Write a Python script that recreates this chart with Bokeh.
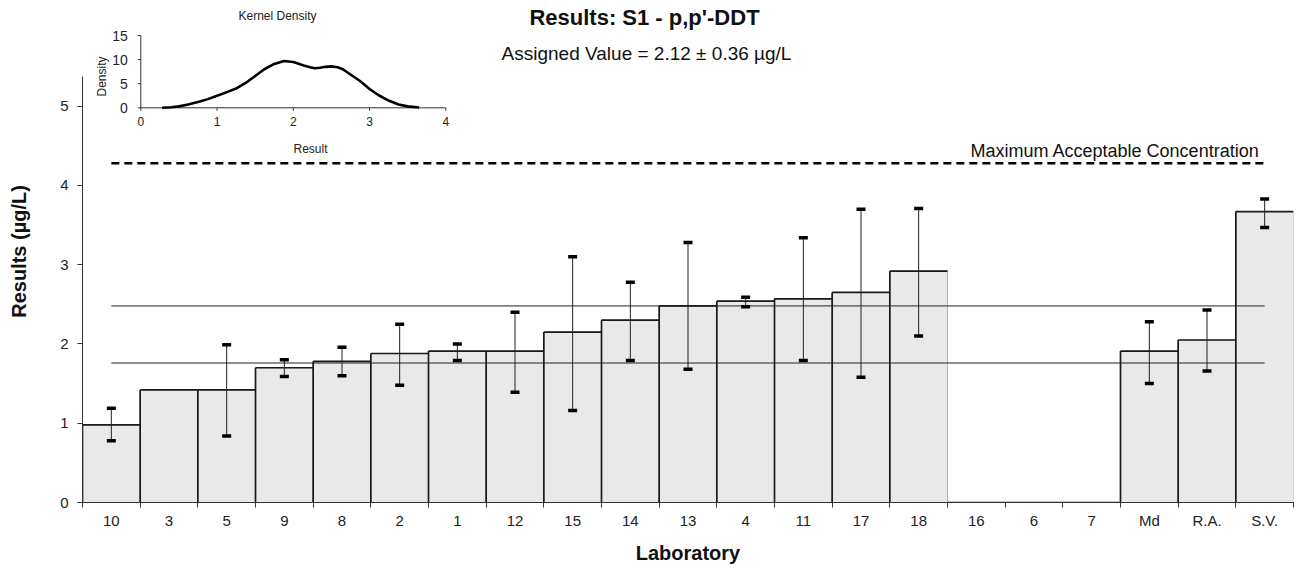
import numpy as np
from bokeh.plotting import figure
from bokeh.models import Range1d, FixedTicker
from bokeh.core.properties import value
from bokeh.embed import file_html
from bokeh.resources import INLINE

FONT = "Liberation Sans"

# ---------------- data ----------------
labs = ["10", "3", "5", "9", "8", "2", "1", "12", "15", "14", "13", "4", "11",
        "17", "18", "16", "6", "7", "Md", "R.A.", "S.V."]
results = [0.98, 1.42, 1.42, 1.70, 1.78, 1.88, 1.91, 1.91, 2.15, 2.30, 2.48, 2.54, 2.57,
           2.65, 2.92, 0.0, 0.0, 0.0, 1.91, 2.05, 3.67]
unc_lo = [0.78, np.nan, 0.84, 1.59, 1.60, 1.48, 1.79, 1.39, 1.16, 1.79, 1.68, 2.47, 1.79,
          1.58, 2.10, np.nan, np.nan, np.nan, 1.50, 1.66, 3.47]
unc_hi = [1.19, np.nan, 1.99, 1.80, 1.96, 2.25, 2.00, 2.40, 3.10, 2.78, 3.28, 2.59, 3.34,
          3.70, 3.71, np.nan, np.nan, np.nan, 2.28, 2.43, 3.83]
ASSIGNED = 2.12
SIGMA = 0.36
MAC = 4.28
main_yticks = [0, 1, 2, 3, 4, 5]

dens_x = [0.28, 0.4, 0.5, 0.62, 0.75, 0.88, 1.0, 1.12, 1.25, 1.38, 1.5, 1.62, 1.75, 1.88,
          2.0, 2.08, 2.15, 2.22, 2.28, 2.35, 2.42, 2.5, 2.58, 2.65, 2.75, 2.88, 3.0,
          3.12, 3.25, 3.38, 3.5, 3.65]
dens_y = [0.0, 0.1, 0.3, 0.7, 1.2, 1.8, 2.5, 3.2, 4.0, 5.2, 6.6, 8.0, 9.1, 9.7,
          9.5, 9.1, 8.7, 8.4, 8.2, 8.3, 8.5, 8.6, 8.4, 8.0, 6.9, 5.5, 3.9,
          2.6, 1.5, 0.7, 0.3, 0.05]
inset_xticks = [0, 1, 2, 3, 4]
inset_yticks = [0, 5, 10, 15]

# ---------------- layout (page pixels) ----------------
W, H = 1296, 570
BL, BR, BT, BB = 82, 3, 0, 68
FW = W - BL - BR
FH = H - BT - BB
PPY = 79.26
Y_TOP = FH / PPY
N = len(labs)
PPX = FW / N


def px2x(px):
    return 0.5 + (px - BL) / PPX


def py2y(py):
    return (BT + FH - py) / PPY


x = np.arange(1, N + 1, dtype=float)
left = x - 0.5
right = x + 0.5
res = np.array(results)

p = figure(width=W, height=H, x_range=Range1d(0.5, N + 0.5), y_range=Range1d(0, Y_TOP),
           output_backend="svg", toolbar_location=None, tools="", title=None,
           min_border_left=BL, min_border_right=BR, min_border_top=BT, min_border_bottom=BB)
p.xgrid.visible = False
p.ygrid.visible = False
p.outline_line_color = None
p.background_fill_color = "white"
p.border_fill_color = "white"

# bars
p.quad(left=left, right=right, bottom=0, top=res, fill_color="#e9e9e9",
       line_color="#b4b4b4", line_width=1)
p.segment(x0=left, y0=0, x1=left, y1=res, line_color="#1a1a1a", line_width=1.7)
p.segment(x0=left, y0=res, x1=right, y1=res, line_color="#1a1a1a", line_width=1.7)

# assigned value +/- sigma lines
p.segment(x0=x[0], y0=[ASSIGNED - SIGMA, ASSIGNED + SIGMA], x1=x[-1],
          y1=[ASSIGNED - SIGMA, ASSIGNED + SIGMA], line_color="#222222", line_width=1)
# maximum acceptable concentration
p.segment(x0=[x[0]], y0=[MAC], x1=[x[-1]], y1=[MAC], line_color="black",
          line_width=2.5, line_dash="8 5")

# error bars
p.segment(x0=x, y0=unc_lo, x1=x, y1=unc_hi, line_color="#222222", line_width=1)
p.scatter(x=np.concatenate([x, x]), y=np.concatenate([unc_lo, unc_hi]), marker="dash",
          size=9, line_color="black", line_width=3.5)

# axes
p.xaxis.ticker = FixedTicker(ticks=list(x), minor_ticks=[i + 0.5 for i in range(N + 1)])
p.xaxis.major_label_overrides = {i + 1: lab for i, lab in enumerate(labs)}
p.xaxis.major_tick_out = 0
p.xaxis.major_tick_in = 0
p.xaxis.minor_tick_out = 5
p.xaxis.minor_tick_in = 0
p.xaxis.major_label_standoff = 4
p.xaxis.axis_label = "Laboratory"
p.xaxis.axis_label_standoff = 10

p.yaxis.ticker = FixedTicker(ticks=main_yticks)
p.yaxis.bounds = (0, 5.38)
p.yaxis.major_tick_out = 5
p.yaxis.major_tick_in = 0
p.yaxis.minor_tick_out = 0
p.yaxis.minor_tick_in = 0
p.yaxis.major_label_standoff = 9
p.yaxis.axis_label = "Results (µg/L)"
p.yaxis.axis_label_standoff = 27

for ax in (p.xaxis[0], p.yaxis[0]):
    ax.axis_line_color = "#333333"
    ax.major_tick_line_color = "#333333"
    ax.minor_tick_line_color = "#333333"
    ax.major_label_text_font = FONT
    ax.major_label_text_font_size = "15px"
    ax.major_label_text_color = "#222222"
    ax.axis_label_text_font = FONT
    ax.axis_label_text_font_size = "20px"
    ax.axis_label_text_font_style = "bold"
    ax.axis_label_text_color = "#111111"

# titles
p.text(x=[px2x(644)], y=[py2y(17)], text=["Results: S1 - p,p'-DDT"],
       text_font=value(FONT), text_font_size="22px", text_font_style="bold",
       text_align="center", text_baseline="middle", text_color="#111111")
p.text(x=[px2x(646)], y=[py2y(53)], text=["Assigned Value = 2.12 ± 0.36 µg/L"],
       text_font=value(FONT), text_font_size="19px",
       text_align="center", text_baseline="middle", text_color="#111111")
p.text(x=[x[-1]], y=[MAC], text=["Maximum Acceptable Concentration"],
       x_offset=-5, y_offset=-2,
       text_font=value(FONT), text_font_size="18px",
       text_align="right", text_baseline="bottom", text_color="#111111")

# ---------------- inset: kernel density ----------------
ins = p.subplot(x_source=Range1d(0, 4), y_source=Range1d(0, 15),
                x_target=Range1d(px2x(140.3), px2x(445.3)),
                y_target=Range1d(py2y(107.3), py2y(35.0)))
UX = 4 / 305.0
UY = 15 / 72.3
ins.segment(x0=[0, 0], y0=[0, 0], x1=[inset_xticks[-1], 0], y1=[0, inset_yticks[-1]],
            line_color="#333333", line_width=1)
ins.segment(x0=inset_xticks, y0=0, x1=inset_xticks, y1=-3 * UY, line_color="#333333", line_width=1)
ins.segment(x0=0, y0=inset_yticks, x1=-3 * UX, y1=inset_yticks, line_color="#333333", line_width=1)
ins.line(dens_x, dens_y, line_color="black", line_width=2.6, line_join="round")
ins.text(x=inset_xticks, y=0, text=[str(t) for t in inset_xticks], y_offset=9,
         text_font=value(FONT), text_font_size="12px", text_align="center",
         text_baseline="top", text_color="#222222")
ins.text(x=0, y=inset_yticks, text=[str(t) for t in inset_yticks], x_offset=-13,
         text_font=value(FONT), text_font_size="14px", text_align="right",
         text_baseline="middle", text_color="#222222")

p.text(x=[px2x(277)], y=[py2y(15)], text=["Kernel Density"], text_font=value(FONT),
       text_font_size="12px", text_align="center", text_baseline="middle", text_color="#222222")
p.text(x=[px2x(310)], y=[py2y(148)], text=["Result"], text_font=value(FONT),
       text_font_size="12px", text_align="center", text_baseline="middle", text_color="#222222")
p.text(x=[px2x(101)], y=[py2y(76)], text=["Density"], text_font=value(FONT), angle=np.pi / 2,
       text_font_size="12px", text_align="center", text_baseline="middle", text_color="#222222")

open("out.html", "w").write(file_html(p, INLINE))
